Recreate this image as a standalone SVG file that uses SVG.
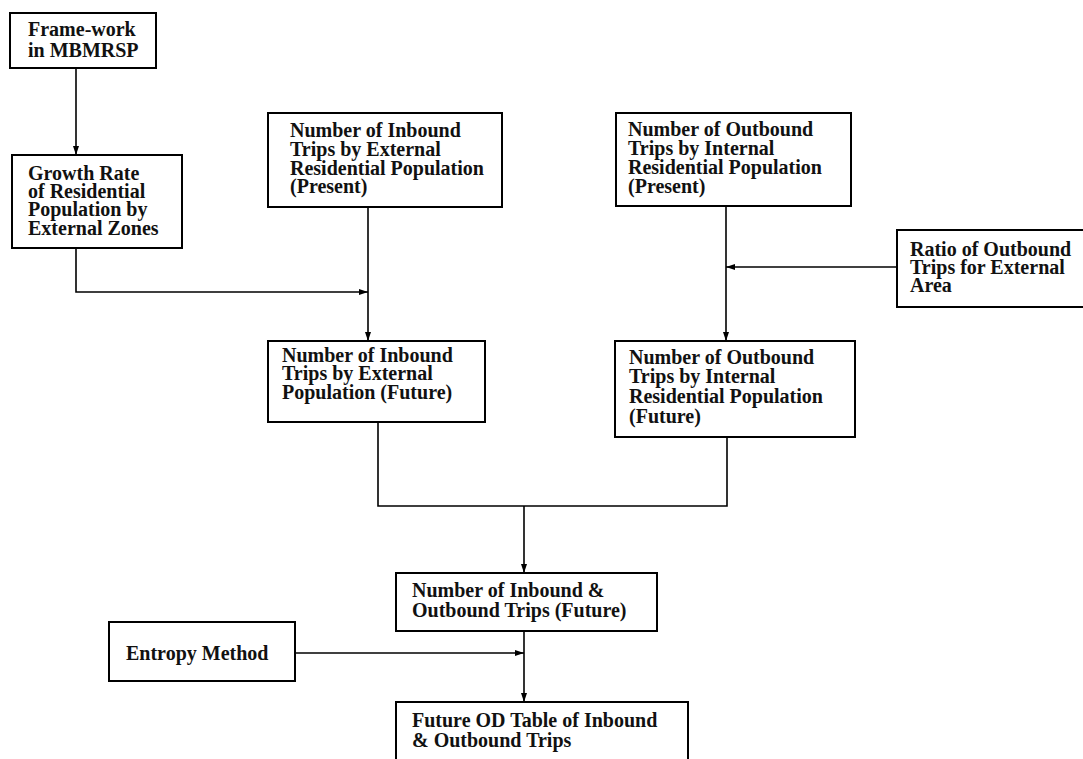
<svg xmlns="http://www.w3.org/2000/svg" width="1083" height="759" viewBox="0 0 1083 759">
  <style>
    .box { fill: #ffffff; stroke: #000000; stroke-width: 2; }
    .lbl { font-family: "Liberation Serif", "Times New Roman", serif; font-size: 20px; font-weight: bold; fill: #111111; }
    .con { fill: none; stroke: #000000; stroke-width: 1.6; }
  </style>
  <defs>
    <marker id="arr" markerUnits="userSpaceOnUse" markerWidth="10" markerHeight="8" refX="9" refY="3.5" orient="auto">
      <path d="M0,0.5 L9,3.5 L0,6.5 z" fill="#000000"/>
    </marker>
  </defs>
  <rect width="1083" height="759" fill="#ffffff"/>

  <g id="connectors">
    <line class="con" x1="76" y1="68" x2="76" y2="155" marker-end="url(#arr)"/>
    <polyline class="con" points="76,248 76,292 368,292" marker-end="url(#arr)"/>
    <line class="con" x1="368" y1="207" x2="368" y2="341" marker-end="url(#arr)"/>
    <line class="con" x1="897" y1="267" x2="726" y2="267" marker-end="url(#arr)"/>
    <line class="con" x1="726" y1="206" x2="726" y2="341" marker-end="url(#arr)"/>
    <polyline class="con" points="378,422 378,506 727,506 727,437"/>
    <line class="con" x1="524" y1="506" x2="524" y2="573" marker-end="url(#arr)"/>
    <line class="con" x1="295" y1="653" x2="524" y2="653" marker-end="url(#arr)"/>
    <line class="con" x1="524" y1="631" x2="524" y2="702" marker-end="url(#arr)"/>
  </g>

  <g id="framework">
    <rect class="box" x="10" y="13" width="146" height="55"/>
    <text class="lbl" x="28" y="36">Frame-work</text>
    <text class="lbl" x="28" y="57">in MBMRSP</text>
  </g>

  <g id="growth-rate">
    <rect class="box" x="12" y="155" width="170" height="93"/>
    <text class="lbl" x="28" y="180">Growth Rate</text>
    <text class="lbl" x="28" y="198">of Residential</text>
    <text class="lbl" x="28" y="216">Population by</text>
    <text class="lbl" x="28" y="235">External Zones</text>
  </g>

  <g id="inbound-present">
    <rect class="box" x="268" y="113" width="234" height="94"/>
    <text class="lbl" x="290" y="137">Number of Inbound</text>
    <text class="lbl" x="290" y="156">Trips by External</text>
    <text class="lbl" x="290" y="175">Residential Population</text>
    <text class="lbl" x="290" y="193">(Present)</text>
  </g>

  <g id="outbound-present">
    <rect class="box" x="616" y="113" width="235" height="93"/>
    <text class="lbl" x="628" y="136">Number of Outbound</text>
    <text class="lbl" x="628" y="155">Trips by Internal</text>
    <text class="lbl" x="628" y="174">Residential Population</text>
    <text class="lbl" x="628" y="193">(Present)</text>
  </g>

  <g id="ratio-outbound">
    <rect class="box" x="897" y="230" width="195" height="77"/>
    <text class="lbl" x="910" y="256">Ratio of Outbound</text>
    <text class="lbl" x="910" y="274">Trips for External</text>
    <text class="lbl" x="910" y="292">Area</text>
  </g>

  <g id="inbound-future">
    <rect class="box" x="268" y="341" width="217" height="81"/>
    <text class="lbl" x="282" y="362">Number of Inbound</text>
    <text class="lbl" x="282" y="380">Trips by External</text>
    <text class="lbl" x="282" y="399">Population (Future)</text>
  </g>

  <g id="outbound-future">
    <rect class="box" x="615" y="341" width="240" height="96"/>
    <text class="lbl" x="629" y="364">Number of Outbound</text>
    <text class="lbl" x="629" y="383">Trips by Internal</text>
    <text class="lbl" x="629" y="403">Residential Population</text>
    <text class="lbl" x="629" y="423">(Future)</text>
  </g>

  <g id="inout-future">
    <rect class="box" x="396" y="573" width="261" height="58"/>
    <text class="lbl" x="412" y="597">Number of Inbound &amp;</text>
    <text class="lbl" x="412" y="617">Outbound Trips (Future)</text>
  </g>

  <g id="entropy">
    <rect class="box" x="109" y="622" width="186" height="59"/>
    <text class="lbl" x="126" y="660">Entropy Method</text>
  </g>

  <g id="od-table">
    <rect class="box" x="396" y="702" width="292" height="70"/>
    <text class="lbl" x="412" y="727">Future OD Table of Inbound</text>
    <text class="lbl" x="412" y="747">&amp; Outbound Trips</text>
  </g>
</svg>
